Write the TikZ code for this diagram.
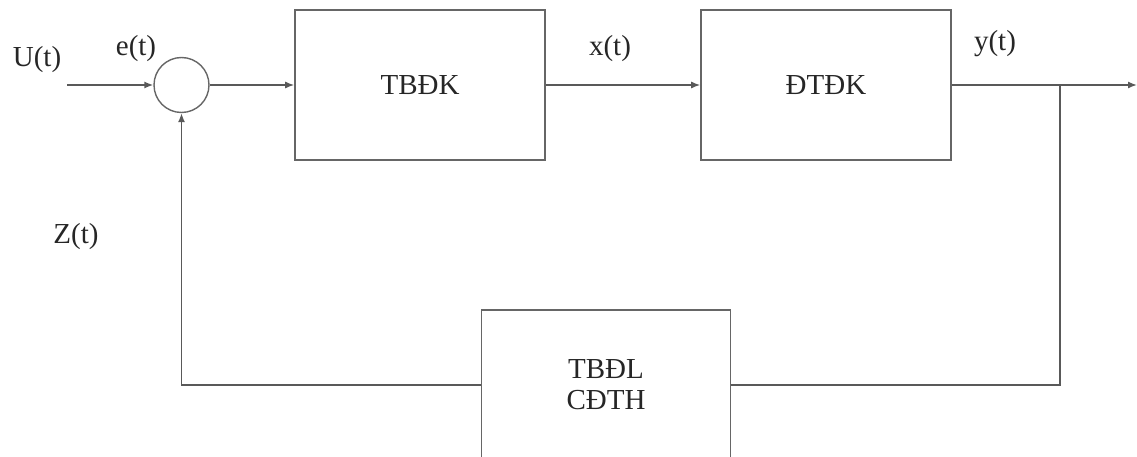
\documentclass[tikz,border=0pt]{standalone}
\usepackage{fontspec}
\setmainfont{Liberation Serif}
\usetikzlibrary{arrows.meta}

\begin{document}
\begin{tikzpicture}[x=1pt,y=-1pt,>={Latex[length=9pt,width=7pt]}]
        \tikzstyle{every node}=[font=\fontsize{29}{32}\selectfont,text=black!85]
        \tikzstyle{blok}=[draw=black!60,line width=1.6pt,rectangle,minimum width=250pt,minimum height=150pt,align=center]
        \tikzstyle{tong}=[draw=black!60,line width=1.4pt,circle,minimum size=55pt,inner sep=0pt]
        \tikzstyle{noi}=[draw=black!65,line width=1.4pt]
        \useasboundingbox (0,0) rectangle (1137,457);
        \clip (0,0) rectangle (1137,457);
        % khoi chinh
        \node[tong] (s) at (181.5,85) {};
        \node[blok] (tbdk) at (420,85) {TBĐK};
        \node[blok] (dtdk) at (826,85) {ĐTĐK};
        \node[blok, minimum width=249pt, minimum height=150pt] (cdth) at (606,385) {TBĐL\\[-1pt]CĐTH};
        \coordinate (vao) at (67,85);
        \coordinate (ra) at (1137,85);
        \coordinate (nhanh) at (1060,85);
        % nhan tin hieu
        \node (u) at (37,60) {U(t)};
        \node (e) at (136,49) {e(t)};
        \node (x) at (610,49) {x(t)};
        \node (y) at (995,44) {y(t)};
        \node (z) at (76,237) {Z(t)};
        % duong noi
        \draw[noi,->] (vao) -- (s);
        \draw[noi,->] (s) -- (tbdk);
        \draw[noi,->] (tbdk) -- (dtdk);
        \draw[noi,->] (dtdk) -- (ra);
        \draw[noi] (nhanh) |- (cdth);
        \draw[noi,->] (cdth) -| (s);
    \end{tikzpicture}
\end{document}
